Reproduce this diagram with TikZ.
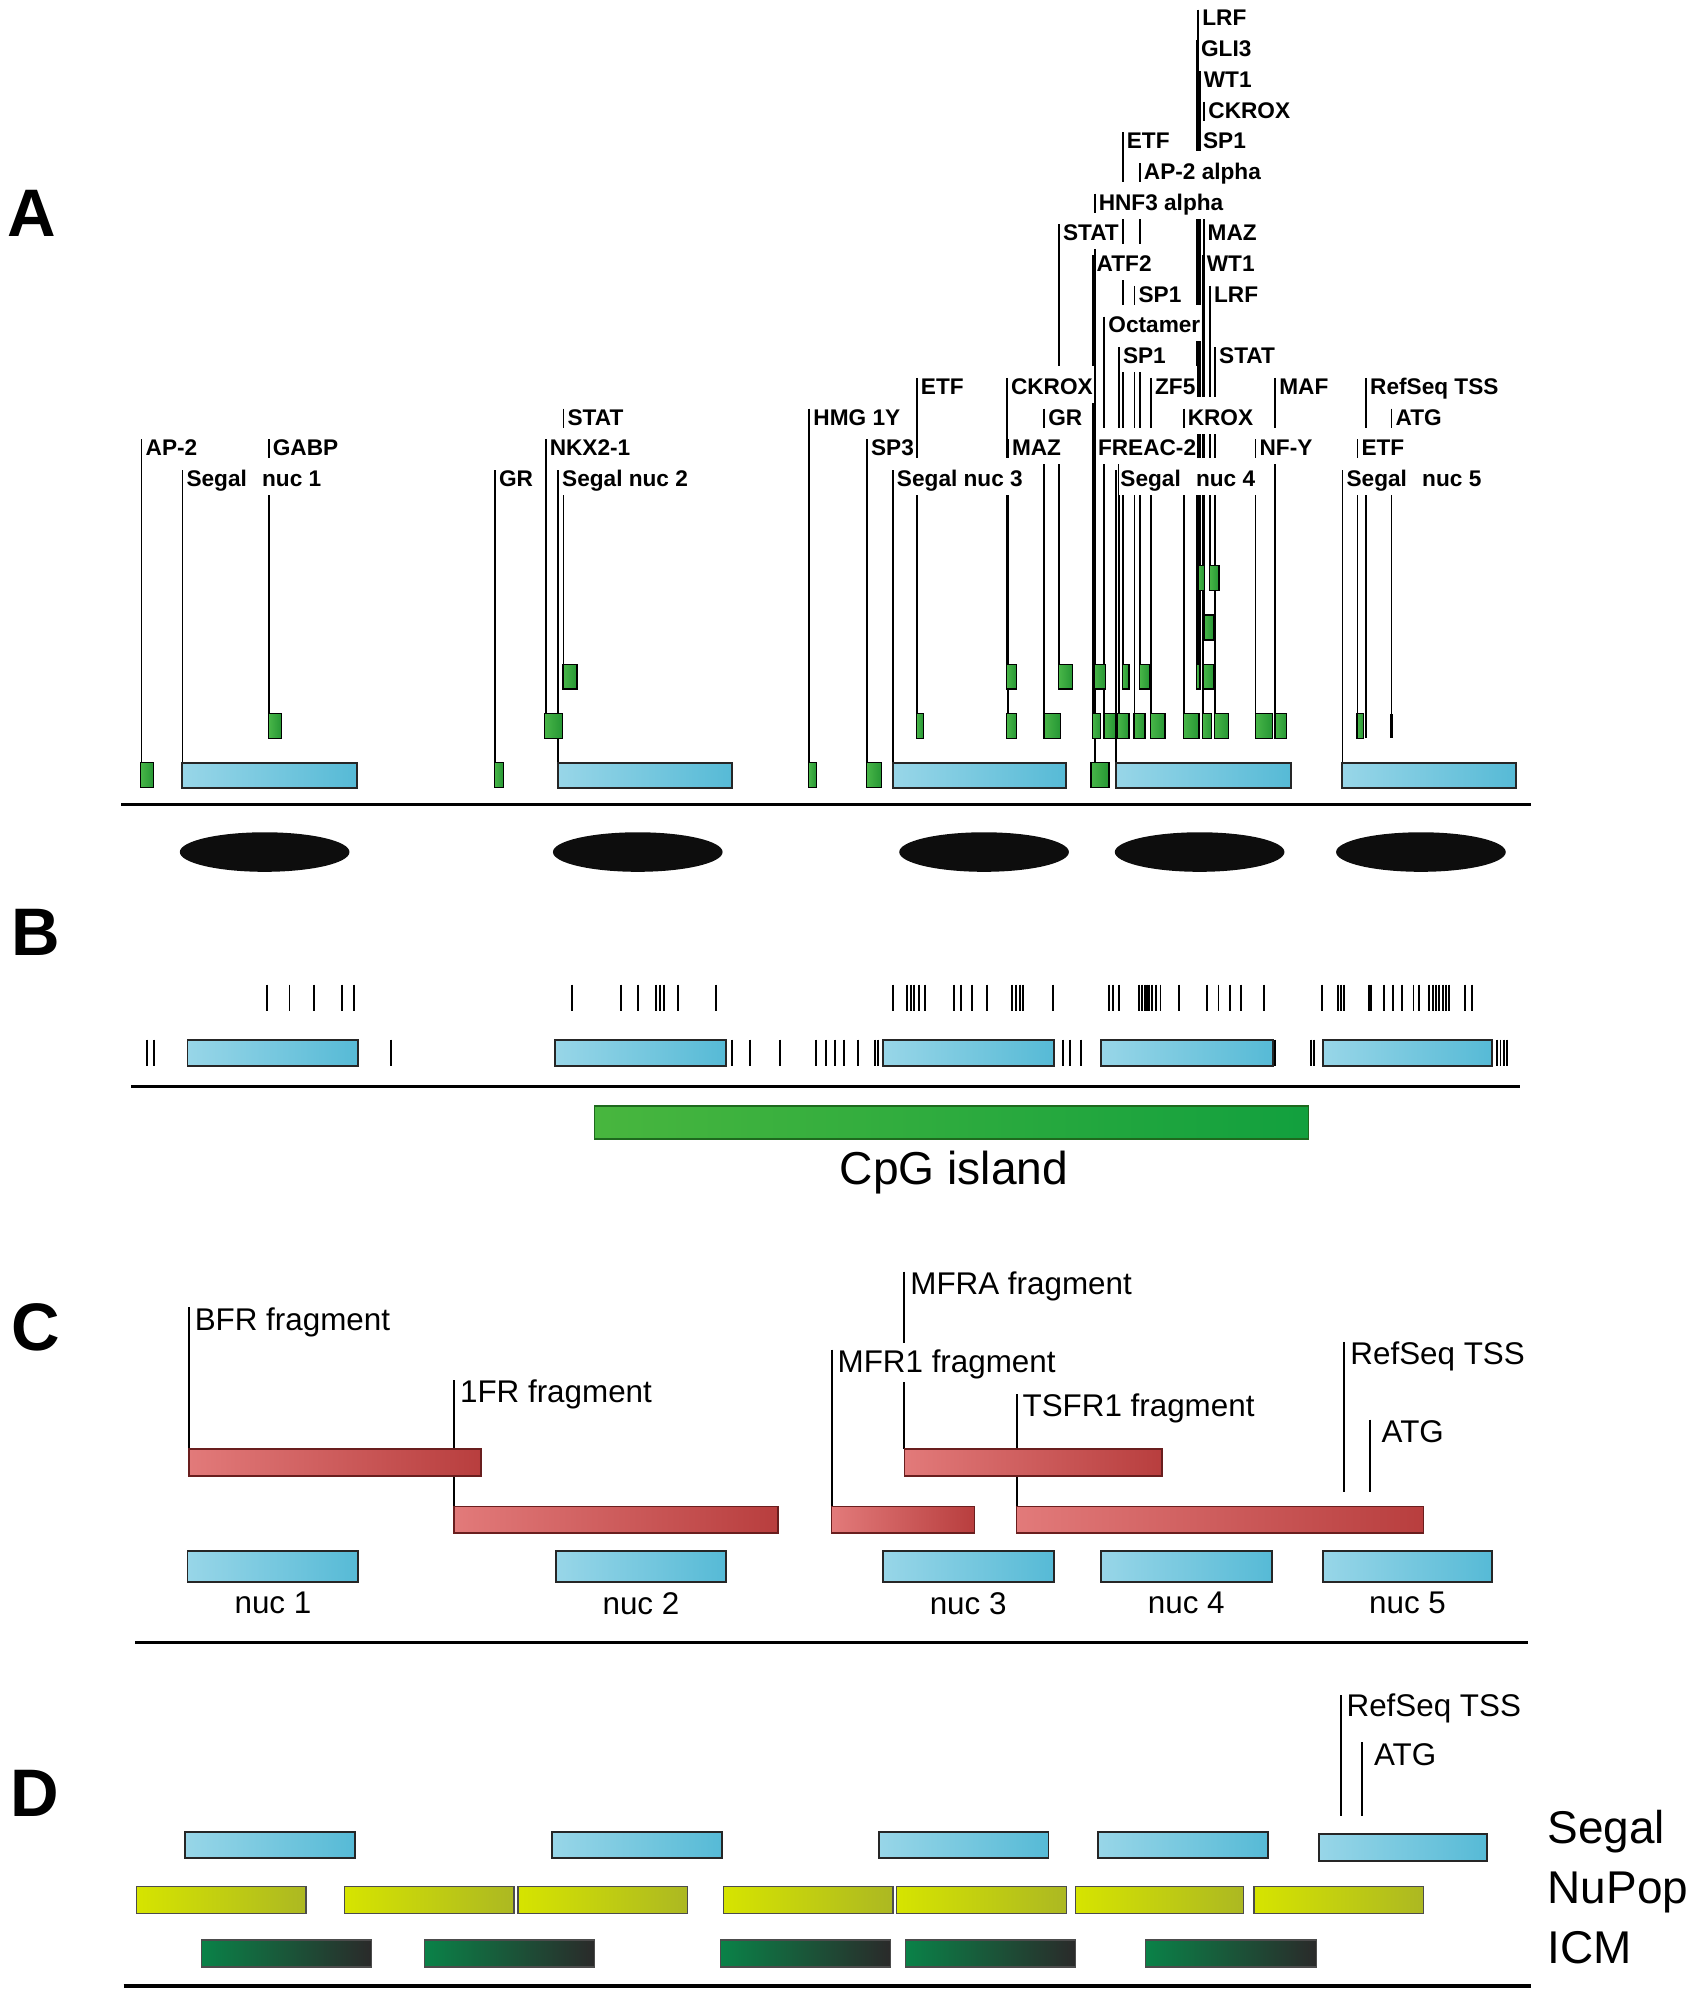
\documentclass[tikz,border=0pt]{standalone}
\usepackage{fontspec}
\setmainfont{Liberation Sans}
\usepackage{tikz}
\usetikzlibrary{calc, positioning}

\definecolor{nucL}{RGB}{152,214,232}
\definecolor{nucR}{RGB}{86,186,214}
\definecolor{siteL}{RGB}{72,182,72}
\definecolor{siteR}{RGB}{38,150,52}
\definecolor{cpgL}{RGB}{72,182,62}
\definecolor{cpgR}{RGB}{18,160,62}
\definecolor{cpgD}{RGB}{30,105,30}
\definecolor{fragL}{RGB}{226,122,122}
\definecolor{fragR}{RGB}{184,62,62}
\definecolor{fragD}{RGB}{105,30,30}
\definecolor{nupopL}{RGB}{214,228,0}
\definecolor{nupopR}{RGB}{172,184,34}
\definecolor{icmL}{RGB}{10,130,72}
\definecolor{icmR}{RGB}{42,42,42}

\tikzset{
  site/.style={line width=0.8pt},
  boxg/.style={draw=black, line width=0.6pt, left color=siteL, right color=siteR},
  boxc/.style={draw=black!85, line width=0.85pt, left color=nucL, right color=nucR},
  boxk/.style={fill=black, draw=none},
  tflab/.style={anchor=base west, fill=white, inner xsep=0.5pt, inner ysep=0pt,
    text height=12.5pt, text depth=3.8pt, font=\bfseries\fontsize{10.1}{12}\selectfont},
  fraglab/.style={anchor=base west, fill=white, inner xsep=0.5pt, inner ysep=0pt,
    text height=13pt, text depth=4.5pt, font=\fontsize{14}{16}\selectfont},
  panel/.style={font=\bfseries\fontsize{30}{34}\selectfont},
  axis/.style={line width=1.4pt},
  tick/.style={line width=0.85pt},
  frag/.style={draw=fragD, line width=0.7pt, left color=fragL, right color=fragR},
  nupop/.style={draw=black!70, line width=0.6pt, left color=nupopL, right color=nupopR},
  icm/.style={draw=black!70, line width=0.6pt, left color=icmL, right color=icmR}
}

% x / label row / box row / box from / box to / box style / label
\def\sitesA{
  111/1/1/110/120.5/boxg/AP-2,
  143/0/1/143/279.6/boxc/Segal\hspace{6.8pt}nuc 1,
  210.7/1/2/210.7/220.7/boxg/GABP,
  388/0/1/387.7/394.7/boxg/GR,
  427.8/1/2/426.7/440.8/boxg/NKX2-1,
  441.8/2/3/441.4/452.4/boxg/STAT,
  437.5/0/1/437.3/573.9/boxc/Segal nuc 2,
  634.5/2/1/634/640/boxg/HMG 1Y,
  679.7/1/1/679.4/691.2/boxg/SP3,
  718.8/3/2/718.6/723.8/boxg/ETF,
  700/0/1/700/836/boxc/Segal nuc 3,
  789.4/3/3/789.2/797/boxg/CKROX,
  790.2/1/2/789.2/797/boxg/MAZ,
  818.6/2/2/818.4/831.5/boxg/GR,
  830.2/8/3/830/841/boxg/STAT,
  858.2/9/1/855.3/869.4/boxg/HNF3 alpha,
  856.6/7/2/856.3/862.9/boxg/ATF2,
  857.6/1/3/857.6/866.8/boxg/FREAC-2,
  865.8/5/2/865.5/874.6/boxg/Octamer,
  875.2/0/1/874.9/1011.8/boxc/Segal\hspace{6.8pt}nuc 4,
  877.2/4/2/876.2/885.1/boxg/SP1,
  880.2/11/3/879.8/885.1/boxg/ETF,
  889.4/6/2/889/897.6/boxg/SP1,
  893.6/10/3/893.4/901.5/boxg/AP-2 alpha,
  902.4/3/2/902.1/913.3/boxg/ZF5,
  928/2/2/927.7/940/boxg/KROX,
  939.4/15/5/939.4/944.1/boxg/LRF,
  938.4/14/3/938.1/940.7/boxg/GLI3,
  940.6/13/3/938.1/940.7/boxg/WT1,
  944.2/12/4/943.9/951.2/boxg/CKROX,
  940/11/3/938.1/940.7/boxg/SP1,
  943.6/8/3/943.3/951.7/boxg/MAZ,
  942.9/7/2/942.6/949.9/boxg/WT1,
  948.6/6/5/948/955.6/boxg/LRF,
  952.6/4/2/952/963/boxg/STAT,
  984.3/1/2/984.1/997.4/boxg/NF-Y,
  999.8/3/2/999.5/1008.7/boxg/MAF,
  1052.5/0/1/1052/1188.7/boxc/Segal\hspace{6.8pt}nuc 5,
  1064.2/1/2/1063.9/1069.1/boxg/ETF,
  1071/3/2/1070.4/1071.6/boxk/RefSeq TSS,
  1091/2/2/1090.1/1091.9/boxk/ATG}

\begin{document}
\begin{tikzpicture}[x=0.02cm, y=-0.02cm]
\useasboundingbox (0,0) rectangle (1328,1568);

\node[panel] (pA) at (25,167) {A};
\node[panel] (pB) at (28,731) {B};
\node[panel] (pC) at (28,1041) {C};
\node[panel] (pD) at (27,1406) {D};

% panel A
\foreach \x/\r/\b/\xa/\xb/\s/\t [count=\i] in \sitesA {
  \pgfmathsetmacro{\ry}{375-24.07*\r}
  \pgfmathsetmacro{\by}{598-38.6*(\b-1)}
  \coordinate (tfTop\i) at (\x,\ry-6.5);
  \coordinate (tfBot\i) at (\x,\by);
  \draw[site] (tfTop\i) -- (tfBot\i);
}
\foreach \x/\r/\b/\xa/\xb/\s/\t [count=\i] in \sitesA {
  \pgfmathsetmacro{\by}{598-38.6*(\b-1)}
  \draw[\s] (\xa,\by) rectangle (\xb,\by+19.5);
}
\foreach \x/\r/\b/\xa/\xb/\s/\t [count=\i] in \sitesA {
  \pgfmathsetmacro{\ry}{375-24.07*\r}
  \node[tflab] (tf\i) at (\x+2,\ry+6.4) {\t};
}
\draw[axis] (95,631) -- (1200,631);
\foreach \c in {207.5,500,771.5,940.5,1114}
  \fill[black!95] (\c,668) ellipse [x radius=66.5, y radius=15.5];

% panel B
\foreach \xa/\xb in {147/281,435/569,692/826,863/998,1037/1170}
  \draw[boxc] (\xa,815) rectangle (\xb,836);
\foreach \x in {209.1,227,246.2,268.4,277.8,
    448.7,486.6,499.9,514.3,517.2,520.4,531.2,561.1,
    699.8,711,714.5,716.3,720.8,725,747.7,753.7,761.7,774,793.3,796.7,799.5,802,825.8,
    869.2,872.7,877.3,893,895.5,897.6,899.3,901,903.5,906.3,909.8,924.5,946.2,955.3,964,972.8,991,
    1036.5,1048.7,1051.2,1054,1073.2,1075,1084.8,1091.8,1098.8,1108.2,1112.8,
    1120.5,1123.3,1125.8,1128.2,1131,1133.8,1136.2,1148.5,1154}
  \draw[tick] (\x,772) -- (\x,793);
\foreach \x in {115.5,120.5,306.6,573.7,588,611.5,639.5,647.5,654.7,661.5,672.7,686.3,688.3,
    833.5,838.8,847.5,999.7,1027.7,1030.2,1173.6,1176.4,1178.9,1181.4}
  \draw[tick] (\x,815) -- (\x,836);
\draw[axis] (103,852) -- (1192,852);
\draw[draw=cpgD, line width=0.7pt, left color=cpgL, right color=cpgR] (466,867) rectangle (1026,893);
\node[font=\fontsize{20.6}{24}\selectfont] (cpg) at (748,919) {CpG island};

% panel C
\foreach \x/\ly/\ya/\xb/\t [count=\i] in {148/1034/1136/377/BFR fragment,
    356/1091/1181/610/1FR fragment, 652/1067/1181/764/MFR1 fragment,
    709/1006/1136/911/MFRA fragment, 797/1102/1181/1116/TSFR1 fragment} {
  \coordinate (frTop\i) at (\x,\ly-9);
  \coordinate (frBot\i) at (\x,\ya);
  \draw[line width=0.9pt] (frTop\i) -- (frBot\i);
}
\foreach \x/\ly/\ya/\xb/\t [count=\i] in {148/1034/1136/377/BFR fragment,
    356/1091/1181/610/1FR fragment, 652/1067/1181/764/MFR1 fragment,
    709/1006/1136/911/MFRA fragment, 797/1102/1181/1116/TSFR1 fragment} {
  \draw[frag] (\x,\ya) rectangle (\xb,\ya+21);
  \node[fraglab] (fr\i) at (\x+3.5,\ly+8.8) {\t};
}
\coordinate (tssC) at (1054,1052);
\coordinate (tssCb) at (1054,1170);
\coordinate (atgC) at (1074,1113);
\coordinate (atgCb) at (1074,1170);
\draw[line width=0.9pt] (tssC) -- (tssCb);
\draw[line width=0.9pt] (atgC) -- (atgCb);
\node[fraglab] (tssClab) at (1057.5,1061+8.8) {RefSeq TSS};
\node[fraglab] (atgClab) at (1082,1122+8.8) {ATG};
\foreach \xa/\xb/\n in {147/281/1,436/569/2,692/826/3,863/997/4,1037/1170/5} {
  \draw[boxc] (\xa,1216) rectangle (\xb,1240);
  \node[font=\fontsize{14}{16}\selectfont] (nucC\n) at ({(\xa+\xb)/2},1257) {nuc \n};
}
\draw[axis] (106,1288) -- (1198,1288);

% panel D
\coordinate (tssD) at (1051,1329);
\coordinate (tssDb) at (1051,1424);
\coordinate (atgD) at (1068,1366);
\coordinate (atgDb) at (1068,1424);
\draw[line width=0.9pt] (tssD) -- (tssDb);
\draw[line width=0.9pt] (atgD) -- (atgDb);
\node[fraglab] (tssDlab) at (1054.5,1337+8.8) {RefSeq TSS};
\node[fraglab] (atgDlab) at (1076,1375+8.8) {ATG};
\foreach \xa/\xb in {145/278,433/566,689/822,861/994}
  \draw[boxc] (\xa,1436) rectangle (\xb,1457);
\draw[boxc] (1034,1438) rectangle (1166,1459);
\foreach \xa/\xb in {107/240,270/403,406/539,567/700,703/836,843/975,983/1116}
  \draw[nupop] (\xa,1479) rectangle (\xb,1500);
\foreach \xa/\xb in {158/291,333/466,565/698,710/843,898/1032}
  \draw[icm] (\xa,1521) rectangle (\xb,1542);
\node[anchor=west, font=\fontsize{20.5}{24}\selectfont, inner sep=0pt] (segal) at (1213,1436) {Segal};
\node[anchor=west, font=\fontsize{20.5}{24}\selectfont, inner sep=0pt] (nupop) at (1213,1484) {NuPop};
\node[anchor=west, font=\fontsize{20.5}{24}\selectfont, inner sep=0pt] (icm) at (1213,1527) {ICM};
\draw[axis] (97,1557) -- (1200,1557);
\end{tikzpicture}
\end{document}
